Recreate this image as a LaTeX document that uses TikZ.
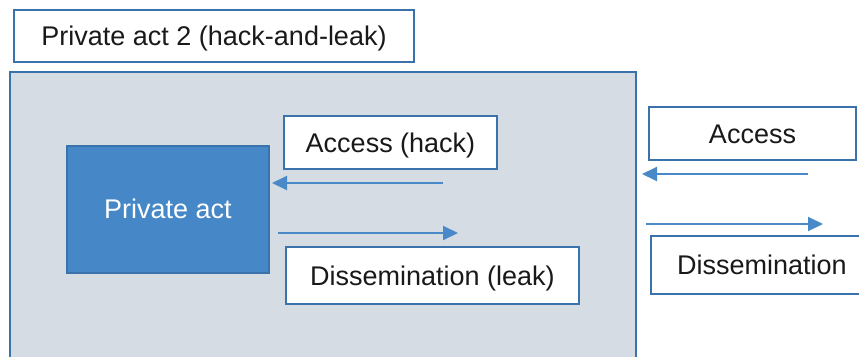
\documentclass[tikz,border=0pt]{standalone}
\usepackage{fontspec}
\setmainfont{Liberation Sans}
\usetikzlibrary{arrows.meta}
\definecolor{edgeblue}{HTML}{3A73AB}
\definecolor{grayfill}{HTML}{D5DCE4}
\definecolor{actfill}{HTML}{4587C7}
\definecolor{arrowblue}{HTML}{4A89C8}
\tikzset{
  txt/.style={font=\fontsize{27}{32}\selectfont, text height=19.3pt, text depth=0pt},
  lbl/.style={txt, draw=edgeblue, line width=2.2pt, fill=white, inner sep=0pt, text=black!90},
  flow/.style={draw=arrowblue, line width=2pt, -{Triangle[length=15pt,width=14pt]}}
}
\begin{document}
\begin{tikzpicture}[x=1pt,y=-1pt]
\useasboundingbox (0,0) rectangle (859,356);
\clip (0,0) rectangle (859,356);
% outer grey region
\node[draw=edgeblue, line width=2.2pt, fill=grayfill, minimum width=626pt, minimum height=320pt, inner sep=0pt] (outer) at (323,232) {};
% title
\node[lbl, minimum width=400pt, minimum height=52pt] (title) at (214,36) {Private act 2 (hack-and-leak)};
% private act
\node[txt, draw=edgeblue, line width=2pt, fill=actfill, minimum width=202pt, minimum height=127pt, inner sep=0pt, text=white] (pa) at (168,209) {Private act};
% inner labels
\node[lbl, minimum width=213pt, minimum height=53pt] (hack) at (390.5,142.5) {Access (hack)};
\node[lbl, minimum width=293pt, minimum height=57pt] (leak) at (432.5,275.5) {Dissemination (leak)};
% outer labels
\node[lbl, minimum width=207pt, minimum height=53pt] (acc) at (752.5,133.5) {Access};
\node[lbl, minimum width=222pt, minimum height=58pt] (dis) at (762,265) {Dissemination};
% arrows
\coordinate (h1) at (443,183);
\coordinate (h2) at (272,183);
\coordinate (l1) at (278,233);
\coordinate (l2) at (458,233);
\coordinate (a1) at (808,174);
\coordinate (a2) at (642,174);
\coordinate (d1) at (646,224);
\coordinate (d2) at (823,224);
\draw[flow] (h1) -- (h2);
\draw[flow] (l1) -- (l2);
\draw[flow] (a1) -- (a2);
\draw[flow] (d1) -- (d2);
\end{tikzpicture}
\end{document}
